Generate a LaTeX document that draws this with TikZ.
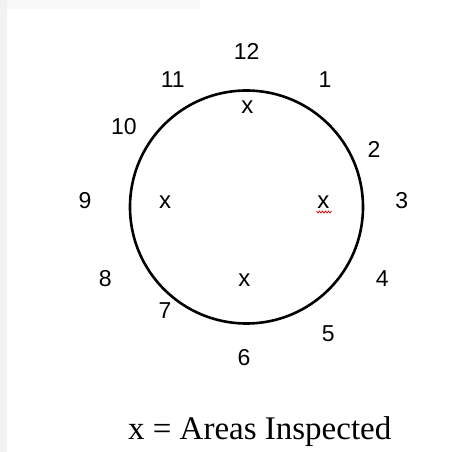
\documentclass[tikz,border=0pt]{standalone}
\usepackage{fontspec}
\setmainfont{Liberation Serif}
\newfontfamily\arialfont{Liberation Sans}
\begin{document}
\begin{tikzpicture}[x=1pt,y=-1pt,
  hour/.style={font=\arialfont\fontsize{23}{23}\selectfont, inner sep=0pt, anchor=center},
  xmark/.style={font=\arialfont\fontsize{24}{24}\selectfont, inner sep=0pt, anchor=center},
  ring/.style={circle, draw=black, line width=2.6pt, minimum size=233pt, inner sep=0pt}]
\useasboundingbox (0,0) rectangle (450,452);
\fill[white] (0,0) rectangle (450,452);
% faint page edge
\fill[gray!10] (0,0) rectangle (7,452);
\fill[gray!5] (7,0) rectangle (200,9);
\node[ring] (clock) at (246.5,207) {};
\node[hour] (h12) at (246.7,51.7) {12};
\node[hour] (h1) at (325,79.3) {1};
\node[hour] (h2) at (374,149) {2};
\node[hour] (h3) at (401.7,201) {3};
\node[hour] (h4) at (382.3,278.3) {4};
\node[hour] (h5) at (328.3,333.3) {5};
\node[hour] (h6) at (244,357.7) {6};
\node[hour] (h7) at (165,311) {7};
\node[hour] (h8) at (105.3,278.3) {8};
\node[hour] (h9) at (85,201) {9};
\node[hour] (h10) at (124,126.7) {10};
\node[hour] (h11) at (172.7,79.3) {11};
\node[xmark] (xtop) at (247.3,106.7) {x};
\node[xmark] (xleft) at (165,201.7) {x};
\node[xmark] (xright) at (323.3,201.7) {x};
\node[xmark] (xbottom) at (244.3,280) {x};
\draw[red!85!black, line width=0.7pt]
  (316.5,211) -- (318,213) -- (319.5,211) -- (321,213) -- (322.5,211) -- (324,213) -- (325.5,211) -- (327,213) -- (328.5,211) -- (330,213) -- (331.5,211);
\node[font=\fontsize{33}{33}\selectfont, inner sep=0pt, anchor=base] (legend) at (259.7,439) {x = Areas Inspected};
\end{tikzpicture}
\end{document}
